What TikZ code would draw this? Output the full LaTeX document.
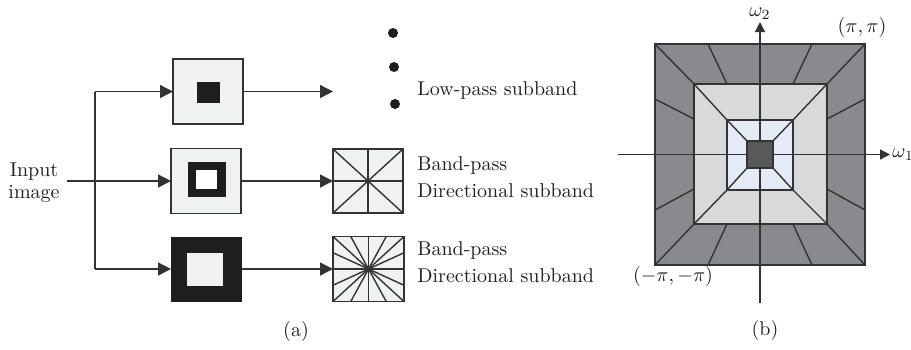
\documentclass[tikz,border=0pt]{standalone}
\usetikzlibrary{arrows.meta,calc}
\definecolor{boxgray}{HTML}{F0F1F1}
\definecolor{blockblack}{HTML}{1E1E1E}
\definecolor{linegray}{HTML}{333333}
\definecolor{textgray}{HTML}{231F20}
\definecolor{ringout}{HTML}{898A8E}
\definecolor{ringmid}{HTML}{D8D9DB}
\definecolor{ringin}{HTML}{E5EBF6}
\definecolor{ringcore}{HTML}{58595B}

\begin{document}
\begin{tikzpicture}[x=0.5pt,y=-0.5pt,
							font=\fontsize{10}{13}\selectfont, text=textgray,
							boxnode/.style={rectangle, draw=linegray, fill=boxgray, line width=0.7pt, inner sep=0pt, outer sep=0pt},
							blocknode/.style={rectangle, fill=blockblack, inner sep=0pt, outer sep=0pt},
							dotnode/.style={circle, fill=blockblack, minimum size=5pt, inner sep=0pt},
							wire/.style={line width=0.7pt, draw=linegray},
							flow/.style={wire, -{Triangle[length=6.5pt,width=6.5pt]}},
							axis/.style={wire, -{Triangle[length=5pt,width=5pt]}},
							]
							\useasboundingbox (0,0) rectangle (911,349);
							%Nodes (a)
							\node[align=center, font=\fontsize{10}{11}\selectfont]	(input)	at	(34,183)	{Input\\image};
							\node[boxnode, minimum width=35pt, minimum height=32.5pt]	(lowbox)	at	(208,91.5)	{};
							\node[blocknode, minimum width=11.5pt, minimum height=10.5pt]	(lowcore)	at	(208.5,92.5)	{};
							\node[boxnode, minimum width=35pt, minimum height=32.5pt]	(bandbox)	at	(206,181)	{};
							\node[blocknode, minimum width=19pt, minimum height=17.5pt]	(bandring)	at	(207,179.5)	{};
							\node[rectangle, fill=white, minimum width=10.5pt, minimum height=9.5pt, inner sep=0pt]	(bandhole)	at	(206.5,179.5)	{};
							\node[blocknode, minimum width=35.5pt, minimum height=32.5pt]	(highbox)	at	(206.5,269)	{};
							\node[boxnode, draw=none, minimum width=18pt, minimum height=16.5pt]	(highcore)	at	(205,269.5)	{};
							\node[boxnode, minimum width=35pt, minimum height=32pt]	(fanA)	at	(368,181)	{};
							\node[boxnode, minimum width=35.5pt, minimum height=32.5pt]	(fanB)	at	(368.5,269)	{};
							\node[dotnode]	(dotA)	at	(393,33)	{};
							\node[dotnode]	(dotB)	at	(394,67)	{};
							\node[dotnode]	(dotC)	at	(395,104)	{};
							\node[anchor=west, inner sep=0pt]	(lowlabel)	at	(417,90)	{Low-pass subband};
							\node[anchor=west, align=left, inner sep=0pt, font=\fontsize{10}{13.5}\selectfont]	(bandlabelA)	at	(417,177)	{Band-pass\\Directional subband};
							\node[anchor=west, align=left, inner sep=0pt, font=\fontsize{10}{13.5}\selectfont]	(bandlabelB)	at	(417,262)	{Band-pass\\Directional subband};
							\node	(capa)	at	(296,331)	{(a)};
							\coordinate	(splittop)	at	(95,91.5);
							\coordinate	(splitbot)	at	(95,269);
							\coordinate	(lowend)	at	(333,91.5);

							%Lines (a)
							\draw[wire] (splittop) -- (splitbot);
							\draw[flow] (splittop) -- (lowbox.west);
							\draw[flow] (input.east |- bandbox) -- (bandbox.west);
							\draw[flow] (splitbot) -- (highbox.west);
							\draw[flow] (lowbox.east) -- (lowend);
							\draw[flow] (bandbox.east) -- (fanA.west);
							\draw[flow] (highbox.east) -- (fanB.west);
							\draw[wire] (fanA.north) -- (fanA.south) (fanA.west) -- (fanA.east);
							\draw[wire] (fanA.north west) -- (fanA.south east) (fanA.north east) -- (fanA.south west);
							\draw[wire] (fanB.north) -- (fanB.south) (fanB.west) -- (fanB.east);
							\draw[wire] (fanB.north west) -- (fanB.south east) (fanB.north east) -- (fanB.south west);
							\foreach \t in {0.25,0.75}{
								\draw[wire] ($(fanB.north west)!\t!(fanB.north east)$) -- ($(fanB.south east)!\t!(fanB.south west)$);
								\draw[wire] ($(fanB.north west)!\t!(fanB.south west)$) -- ($(fanB.south east)!\t!(fanB.north east)$);
							}

							%Rings (b)
							\fill[ringout] (655,44) rectangle (865,265);
							\foreach \xa/\ya/\xb/\yb in {708/44/727/84, 812/44/793/84, 708/265/727/224, 812/265/793/224,
								655/99/694/119, 655/210/694/189, 865/99/827/119, 865/210/827/189,
								655/44/694/84, 865/44/827/84, 655/265/694/224, 865/265/827/224}
								\draw[wire] (\xa,\ya) -- (\xb,\yb);
							\fill[ringmid] (694,84) rectangle (827,224);
							\foreach \xa/\ya/\xb/\yb in {694/84/727/120, 827/84/793/120, 694/224/727/190, 827/224/793/190}
								\draw[wire] (\xa,\ya) -- (\xb,\yb);
							\fill[ringin] (727,120) rectangle (793,190);
							\foreach \xa/\ya/\xb/\yb in {727/120/747/141, 793/120/773/141, 727/190/747/168, 793/190/773/168}
								\draw[wire] (\xa,\ya) -- (\xb,\yb);
							\draw[wire] (655,44) rectangle (865,265);
							\draw[wire] (694,84) rectangle (827,224);
							\draw[wire] (727,120) rectangle (793,190);

							%Axes (b)
							\coordinate	(wleft)	at	(618,154.5);
							\coordinate	(wright)	at	(890,154.5);
							\coordinate	(wbot)	at	(760,303);
							\coordinate	(wtop)	at	(760,22);
							\draw[axis] (wleft) -- (wright);
							\draw[axis] (wbot) -- (wtop);
							\draw[wire, fill=ringcore] (747,141) rectangle (773,168);
							\node[anchor=west, inner sep=1pt]	(wone)	at	(wright)	{$\omega_1$};
							\node[anchor=south, inner sep=1pt]	(wtwo)	at	(wtop)	{$\omega_2$};
							\node	(cornerpp)	at	(862,27)	{$(\pi,\pi)$};
							\node	(cornermm)	at	(673,276)	{$(-\pi,-\pi)$};
							\node	(capb)	at	(765,330)	{(b)};
						\end{tikzpicture}
\end{document}
